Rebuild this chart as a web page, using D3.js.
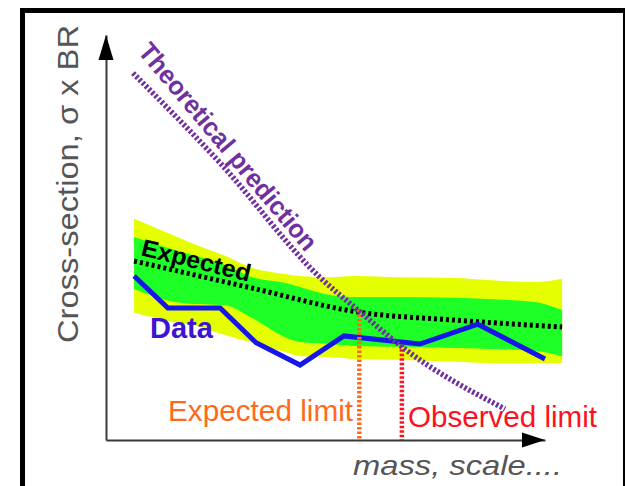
<!DOCTYPE html>
<html><head><meta charset="utf-8">
<script src="https://cdn.jsdelivr.net/npm/d3@7"></script>
<style>html,body{margin:0;padding:0;background:#fff;overflow:hidden}</style>
</head><body><svg id="c" width="625" height="486"></svg>
<script>
// ---- data (arbitrary units: mass 0..100, cross-section 0..100) ----
const bandMass   = [6.4, 15.7, 19.6, 27.1, 33.3, 40.8, 44.2, 51.0, 57.0, 67.0, 79.5, 87.0, 97.7, 103.9];
const band2Upper = [54.6, 50.4, 48.6, 45.5, 42.5, 41.0, 40.5, 40.2, 40.5, 40.2, 40.0, 39.5, 39.0, 39.8];
const band2Lower = [31.4, 29.1, 28.4, 25.9, 24.0, 21.7, 20.7, 20.5, 20.0, 19.8, 19.3, 19.0, 19.0, 19.0];
const band1Upper = [50.1, 46.9, 45.7, 43.2, 40.2, 38.8, 37.8, 35.8, 35.3, 35.3, 35.1, 34.8, 34.1, 32.1];
const band1Lower = [37.3, 34.1, 33.6, 33.3, 30.1, 25.4, 24.2, 23.7, 23.2, 23.0, 22.7, 22.5, 22.0, 20.7];

const expectedMass  = [6.4, 33.3, 57.4, 79.5, 103.9];
const expectedValue = [44.2, 37.5, 31.6, 29.6, 27.9];

const dataMass  = [6.4, 14.1, 26.0, 34.2, 44.2, 54.2, 71.5, 84.7, 100.0];
const dataValue = [40.5, 32.6, 32.6, 24.0, 18.5, 25.7, 23.7, 28.6, 20.0];

const theoryMass  = [6.15, 26.0, 48.7, 57.9, 67.4, 90.9];
const theoryValue = [90.6, 68.4, 40.2, 31.6, 23.0, 7.65];

const limitNames = ["Expected limit", "Observed limit"];
const limitMass  = [57.7, 67.4];
const limitValue = [32.1, 23.5];

const yTitle = "Cross-section, \u03c3 x BR";
const xTitle = "mass, scale....";

// ---- drawing ----
const svg = d3.select("#c");
const x = d3.scaleLinear().domain([0, 100]).range([106, 545]);
const y = d3.scaleLinear().domain([0, 100]).range([440, 35]);
const font = "'Liberation Sans', Arial, sans-serif";

// frame
svg.append("rect").attr("x", 22.5).attr("y", 10.5).attr("width", 603).attr("height", 600)
  .attr("fill", "none").attr("stroke", "#000").attr("stroke-width", 5);

const zip = (xs, ...cols) => xs.map((v, i) => [v, ...cols.map(c => c[i])]);

const area = d3.area().x(d => x(d[0])).y0(d => y(d[1])).y1(d => y(d[2])).curve(d3.curveMonotoneX);
svg.append("path").datum(zip(bandMass, band2Lower, band2Upper)).attr("d", area).attr("fill", "#e6ff00");
svg.append("path").datum(zip(bandMass, band1Lower, band1Upper)).attr("d", area).attr("fill", "#1eff28");

// axes
svg.append("g").attr("transform", `translate(0,${y(0)})`)
  .call(d3.axisBottom(x).tickValues([]).tickSizeOuter(0));
svg.append("g").attr("transform", `translate(${x(0)},0)`)
  .call(d3.axisLeft(y).tickValues([]).tickSizeOuter(0));
svg.selectAll(".domain").attr("stroke", "#3a3a3a").attr("stroke-width", 2);
// arrowheads
svg.append("path").attr("fill", "#000")
  .attr("d", `M${x(100)},${y(0)} L${x(100) - 23},${y(0) - 7.5} L${x(100) - 23},${y(0) + 7.5} Z`);
svg.append("path").attr("fill", "#000")
  .attr("d", `M${x(0)},${y(100)} L${x(0) - 7.5},${y(100) + 25} L${x(0) + 7.5},${y(100) + 25} Z`);

// expected (median)
svg.append("path").datum(zip(expectedMass, expectedValue))
  .attr("d", d3.line().x(d => x(d[0])).y(d => y(d[1])).curve(d3.curveMonotoneX)).attr("fill", "none")
  .attr("stroke", "#000").attr("stroke-width", 5).attr("stroke-dasharray", "3,3");

// data
svg.append("path").datum(zip(dataMass, dataValue))
  .attr("d", d3.line().x(d => x(d[0])).y(d => y(d[1]))).attr("fill", "none")
  .attr("stroke", "#1616e8").attr("stroke-width", 5).attr("stroke-linejoin", "miter");

// limit lines
const limitColors = ["#ff6a1a", "#ff1020"];
limitMass.forEach((m, i) => {
  svg.append("line").attr("x1", x(m)).attr("x2", x(m)).attr("y1", y(limitValue[i])).attr("y2", y(0))
    .attr("stroke", limitColors[i]).attr("stroke-width", 4.5).attr("stroke-dasharray", "2.5,2");
});

// theory
svg.append("path").datum(zip(theoryMass, theoryValue))
  .attr("d", d3.line().x(d => x(d[0])).y(d => y(d[1])).curve(d3.curveMonotoneX)).attr("fill", "none")
  .attr("stroke", "#7030a0").attr("stroke-width", 5.5).attr("stroke-dasharray", "2.5,2");

// texts
svg.append("text").attr("transform", "translate(78,184) rotate(-90)")
  .attr("text-anchor", "middle").attr("font-family", font).attr("font-size", 30)
  .attr("fill", "#555").attr("textLength", 318).attr("lengthAdjust", "spacingAndGlyphs").text(yTitle);

svg.append("text").attr("x", 353).attr("y", 475).attr("font-family", font).attr("font-size", 28)
  .attr("font-style", "italic").attr("fill", "#555")
  .attr("textLength", 209).attr("lengthAdjust", "spacingAndGlyphs").text(xTitle);

svg.append("text").attr("x", 168).attr("y", 421).attr("font-family", font).attr("font-size", 29)
  .attr("fill", limitColors[0]).attr("textLength", 185).attr("lengthAdjust", "spacingAndGlyphs").text(limitNames[0]);
svg.append("text").attr("x", 408).attr("y", 427).attr("font-family", font).attr("font-size", 29)
  .attr("fill", limitColors[1]).attr("textLength", 189).attr("lengthAdjust", "spacingAndGlyphs").text(limitNames[1]);

svg.append("text").attr("x", 150).attr("y", 338).attr("font-family", font).attr("font-size", 29)
  .attr("font-weight", "bold").attr("fill", "#3c14d2").text("Data");

svg.append("text").attr("transform", "translate(140,255) rotate(13.8)")
  .attr("font-family", font).attr("font-size", 24).attr("font-weight", "bold").attr("fill", "#000")
  .attr("textLength", 112).attr("lengthAdjust", "spacingAndGlyphs").text("Expected");

svg.append("text").attr("transform", "translate(137,52) rotate(50)")
  .attr("font-family", font).attr("font-size", 26).attr("font-weight", "bold").attr("fill", "#7030a0")
  .attr("textLength", 262).attr("lengthAdjust", "spacingAndGlyphs").text("Theoretical prediction");
</script>
</body></html>
